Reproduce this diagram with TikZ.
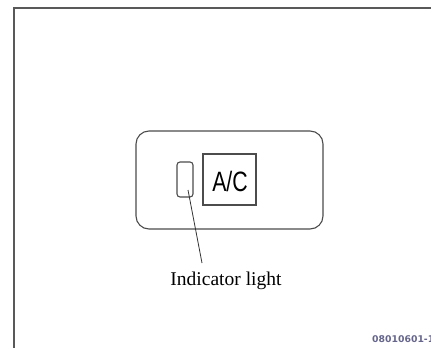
\documentclass[tikz,border=0pt]{standalone}
\usepackage{fontspec}
\setmainfont{Liberation Serif}
\newfontfamily\labsans{Liberation Sans}
\newfontfamily\codefont{DejaVu Sans}
\begin{document}
\begin{tikzpicture}[x=1pt,y=-1pt,
  lineclr/.style={draw=black!70, line width=1.1pt},
  framestyle/.style={draw=black!65, line width=1.8pt},
  panelbox/.style={lineclr, rounded corners=13pt},
  lampbox/.style={lineclr, rounded corners=3pt},
  acbox/.style={lineclr, line width=1.2pt},
  leader/.style={draw=black!80, line width=0.8pt}]
\useasboundingbox (0,0) rectangle (431,348);
% outer frame (left and top edges visible)
\draw[framestyle] (14,360) -- (14,8) -- (440,8);
% panel
\draw[panelbox] (136,131) rectangle (323,229);
\draw[lampbox] (177,162) rectangle (193,197);
\coordinate (lamp) at (188,190);
\node[acbox, minimum width=53pt, minimum height=51pt, inner sep=0pt] (ac) at (229.5,179.5) {};
\node[inner sep=0pt] (actext) at (230,181) {\scalebox{0.76}[1]{\labsans\fontsize{28}{28}\selectfont A/C}};
\node[inner sep=0pt, font=\fontsize{19.5}{20}\selectfont] (lbl) at (226,281) {Indicator light};
\coordinate (leadend) at (202,263);
\draw[leader] (lamp) -- (leadend);
\node[anchor=west, inner sep=0pt, text=blue!25!black!60, font=\codefont\fontsize{9.3}{10}\selectfont\bfseries] (code) at (372,339) {08010601-1};
\end{tikzpicture}
\end{document}
